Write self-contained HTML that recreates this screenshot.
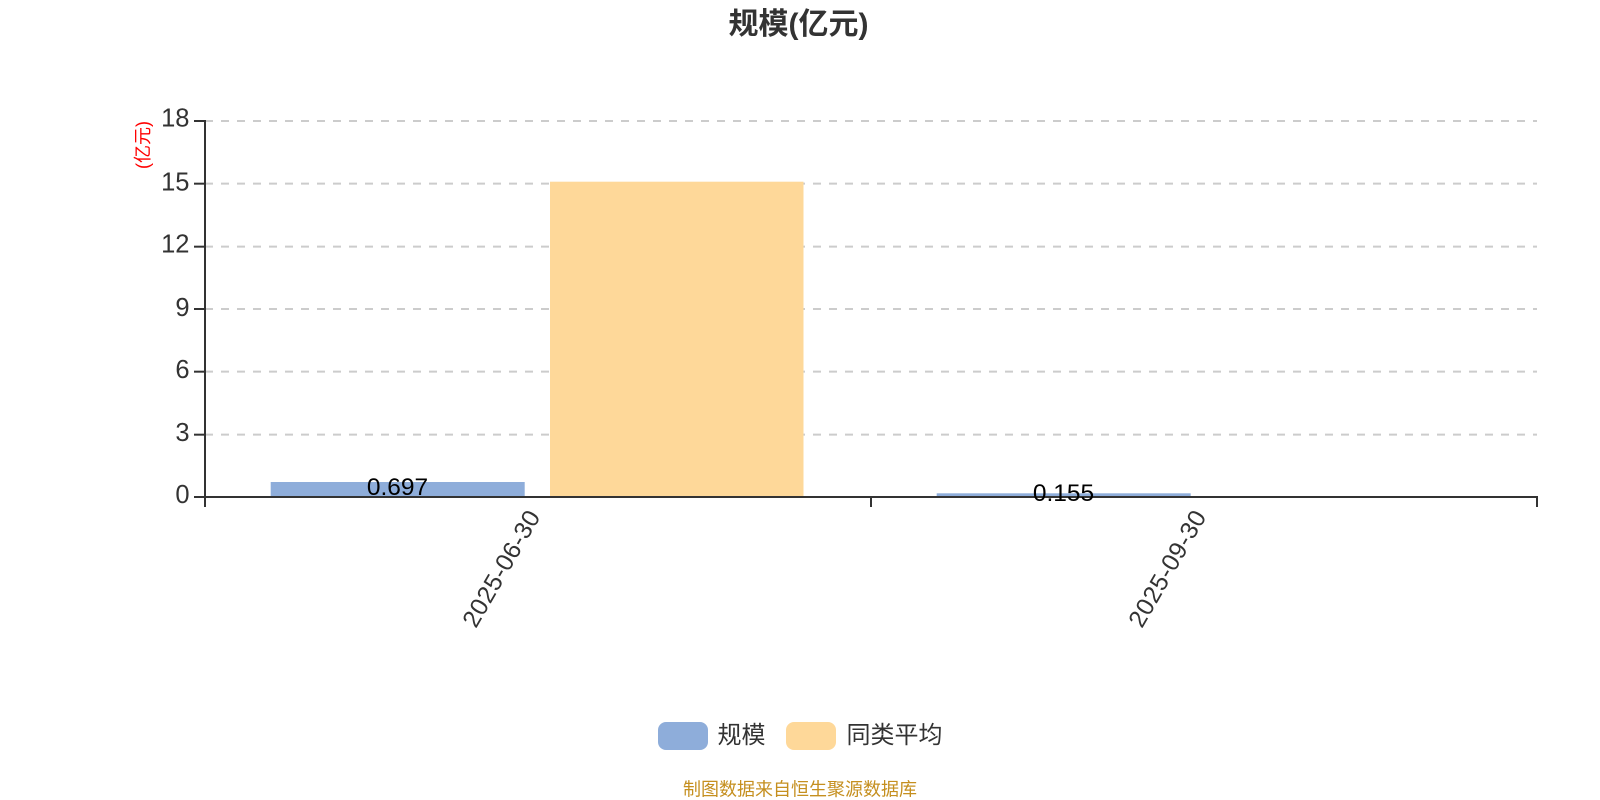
<!DOCTYPE html>
<html lang="zh">
<head>
<meta charset="utf-8">
<title>规模(亿元)</title>
<style>
html,body{margin:0;padding:0;background:#fff;width:1600px;height:800px;overflow:hidden}
svg{display:block}
text{font-family:"Liberation Sans","Noto Sans CJK SC",sans-serif}
</style>
</head>
<body>
<svg width="1600" height="800" viewBox="0 0 1600 800" xmlns="http://www.w3.org/2000/svg">
<rect width="1600" height="800" fill="#fff"/>
<text x="798.500" y="34" text-anchor="middle" font-size="30" font-weight="bold" fill="#333">规模(亿元)</text>
<g stroke="#ccc" stroke-width="2" stroke-dasharray="8 8" fill="none">
<line x1="205" y1="121" x2="1537" y2="121"/>
<line x1="205" y1="183.670" x2="1537" y2="183.670"/>
<line x1="205" y1="246.670" x2="1537" y2="246.670"/>
<line x1="205" y1="309" x2="1537" y2="309"/>
<line x1="205" y1="371.670" x2="1537" y2="371.670"/>
<line x1="205" y1="434.670" x2="1537" y2="434.670"/>
</g>
<rect x="270.700" y="482" width="254" height="15" fill="#8eadda"/>
<rect x="550" y="181.700" width="253.500" height="315.300" fill="#fed899"/>
<rect x="936.700" y="493.300" width="254" height="3.700" fill="#8eadda"/>
<g stroke="#333" stroke-width="2" fill="none">
<line x1="205" y1="120" x2="205" y2="498"/>
<line x1="204" y1="497" x2="1538" y2="497"/>
<line x1="194" y1="121" x2="205" y2="121"/>
<line x1="194" y1="183.670" x2="205" y2="183.670"/>
<line x1="194" y1="246.670" x2="205" y2="246.670"/>
<line x1="194" y1="309" x2="205" y2="309"/>
<line x1="194" y1="371.670" x2="205" y2="371.670"/>
<line x1="194" y1="434.670" x2="205" y2="434.670"/>
<line x1="194" y1="497" x2="205" y2="497"/>
<line x1="205" y1="497" x2="205" y2="507"/>
<line x1="871" y1="497" x2="871" y2="507"/>
<line x1="1537" y1="497" x2="1537" y2="507"/>
</g>
<g font-size="25.500" fill="#333" text-anchor="end">
<text x="189.500" y="126.500">18</text>
<text x="189.500" y="190.500">15</text>
<text x="189.500" y="252.500">12</text>
<text x="189.500" y="316">9</text>
<text x="189.500" y="378">6</text>
<text x="189.500" y="441">3</text>
<text x="189.500" y="503">0</text>
</g>
<text transform="translate(149,145) rotate(-90)" text-anchor="middle" font-size="18" fill="#f00">(亿元)</text>
<text x="397.500" y="495" text-anchor="middle" font-size="24.500" fill="#000">0.697</text>
<text x="1063.500" y="501" text-anchor="middle" font-size="24.500" fill="#000">0.155</text>
<g font-size="24.500" fill="#333" text-anchor="end">
<text transform="translate(534,512.500) rotate(-60)" x="0" y="8" textLength="130" lengthAdjust="spacing">2025-06-30</text>
<text transform="translate(1200,512.500) rotate(-60)" x="0" y="8" textLength="130" lengthAdjust="spacing">2025-09-30</text>
</g>
<rect x="658" y="722" width="50" height="28" rx="8" fill="#8eadda"/>
<text x="717.500" y="743" font-size="24" fill="#333">规模</text>
<rect x="786" y="722" width="50" height="28" rx="8" fill="#fed899"/>
<text x="846.500" y="743" font-size="24" fill="#333">同类平均</text>
<text x="800" y="795.500" text-anchor="middle" font-size="18" fill="#c58f1f">制图数据来自恒生聚源数据库</text>
</svg>
</body>
</html>
